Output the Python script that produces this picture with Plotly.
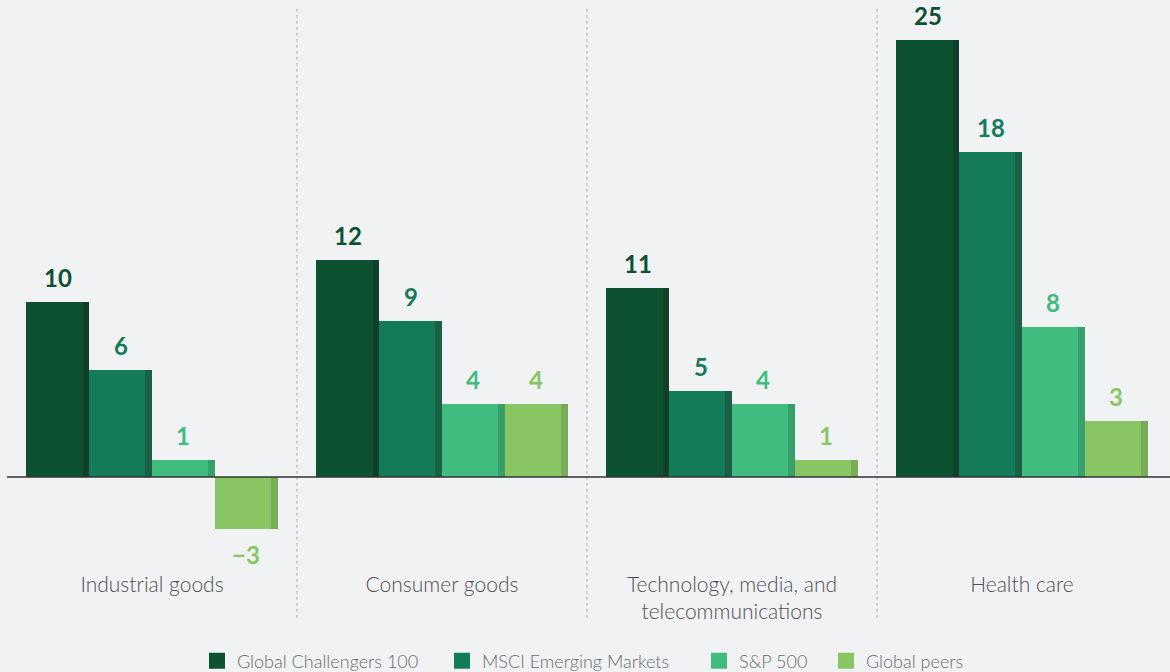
import plotly.graph_objects as go

categories = ["Industrial goods", "Consumer goods", "Technology, media, and<br>telecommunications", "Health care"]
series_names = ["Global Challengers 100", "MSCI Emerging Markets", "S&P 500", "Global peers"]
gc100 = [10.0, 12.4, 10.8, 25.0]
msci = [6.1, 8.9, 4.9, 18.6]
sp500 = [1.0, 4.2, 4.2, 8.6]
peers = [-3.0, 4.2, 1.0, 3.2]
gc100_labels = ["10", "12", "11", "25"]
msci_labels = ["6", "9", "5", "18"]
sp500_labels = ["1", "4", "4", "8"]
peers_labels = ["\u22123", "4", "1", "3"]
title_text = "Revenue growth, 2012\u20132016 (%)"

values = [gc100, msci, sp500, peers]
labels = [gc100_labels, msci_labels, sp500_labels, peers_labels]
colors = ["#0C5130", "#137B57", "#3FBC7E", "#88C664"]
edge_colors = ["#123F29", "#1A6146", "#37A06A", "#78AC57"]

W, H = 1170, 672
ML, MR, MT, MB = 7, 3, 8, 102
PW, PH = W - ML - MR, H - MT - MB

BW = 0.217
EW = 0.0225
START = -2 * BW

fig = go.Figure()
x_idx = list(range(len(categories)))
for i, (name, vals) in enumerate(zip(series_names, values)):
    fig.add_trace(go.Bar(
        x=x_idx, y=vals, name=name, showlegend=False,
        width=BW, offset=START + i * BW,
        marker=dict(color=colors[i], line=dict(width=0)),
        hoverinfo="skip",
    ))
for i, vals in enumerate(values):
    fig.add_trace(go.Bar(
        x=x_idx, y=vals, showlegend=False,
        width=EW, offset=START + (i + 1) * BW - EW,
        marker=dict(color=edge_colors[i], line=dict(width=0)),
        hoverinfo="skip",
    ))

legend_px = [210, 455, 712, 839]
legend_names = ["legend", "legend2", "legend3", "legend4"]
legend_y = (H - MB - 661) / PH
for i, name in enumerate(series_names):
    fig.add_trace(go.Scatter(
        x=[None], y=[None], mode="markers", name=name, legend=legend_names[i],
        marker=dict(symbol="square", size=16, color=colors[i]), showlegend=True,
        hoverinfo="skip",
    ))

annotations = []
for i, (vals, labs) in enumerate(zip(values, labels)):
    for k, (v, t) in enumerate(zip(vals, labs)):
        xpos = k + START + (i + 0.5) * BW
        annotations.append(dict(
            x=xpos, y=v, xref="x", yref="y", text=t, showarrow=False,
            yanchor="bottom" if v >= 0 else "top",
            yshift=8 if v >= 0 else -9,
            font=dict(family="Lato", size=24, color=colors[i], weight="bold"),
        ))
annotations.append(dict(text=title_text, xref="paper", yref="paper", x=(20 - ML) / PW,
                        y=(H - MB - 3) / PH, xanchor="left", yanchor="bottom", showarrow=False,
                        font=dict(family="Lato", size=17, color="#6B6B6B", weight=300)))

shapes = []
for k in range(len(categories) - 1):
    shapes.append(dict(type="line", xref="x", yref="paper", x0=k + 0.5, x1=k + 0.5,
                       y0=-0.085, y1=1.0, line=dict(color="#B5B8BC", width=1.2, dash="dot"), layer="below"))
shapes.append(dict(type="line", xref="paper", yref="y", x0=0, x1=1.01, y0=0, y1=0,
                   line=dict(color="#333333", width=1.5)))

legend_common = dict(orientation="h", yanchor="middle", xanchor="left", y=legend_y,
                     font=dict(family="Lato", size=18, color="#6B6B6B", weight=300),
                     bgcolor="rgba(0,0,0,0)", itemclick=False, itemdoubleclick=False)
legends = {}
for i, ln in enumerate(legend_names):
    legends[ln] = dict(legend_common, x=(legend_px[i] - 13 - ML) / PW)

fig.update_layout(
    width=W, height=H,
    paper_bgcolor="#F1F2F4", plot_bgcolor="#F1F2F4",
    margin=dict(l=ML, r=MR, t=MT, b=MB, autoexpand=False),
    barmode="overlay",
    showlegend=True,
    xaxis=dict(range=[-0.5, 3.5], tickmode="array", tickvals=x_idx, ticktext=categories,
               showgrid=False, zeroline=False, showline=False, ticks="", automargin=False,
               tickfont=dict(family="Lato", size=21, color="#505050", weight=300), fixedrange=True),
    yaxis=dict(range=[-5.32, 26.83], showgrid=False, zeroline=False, showticklabels=False,
               showline=False, fixedrange=True, automargin=False),
    shapes=shapes,
    annotations=annotations,
    bargap=0,
    **legends,
)

post = (
    "document.documentElement.style.margin='0';"
    "document.body.style.margin='0';"
    "document.body.style.background='#F1F2F4';"
)
fig.write_html("out.html", post_script=post, config={"displayModeBar": False})
